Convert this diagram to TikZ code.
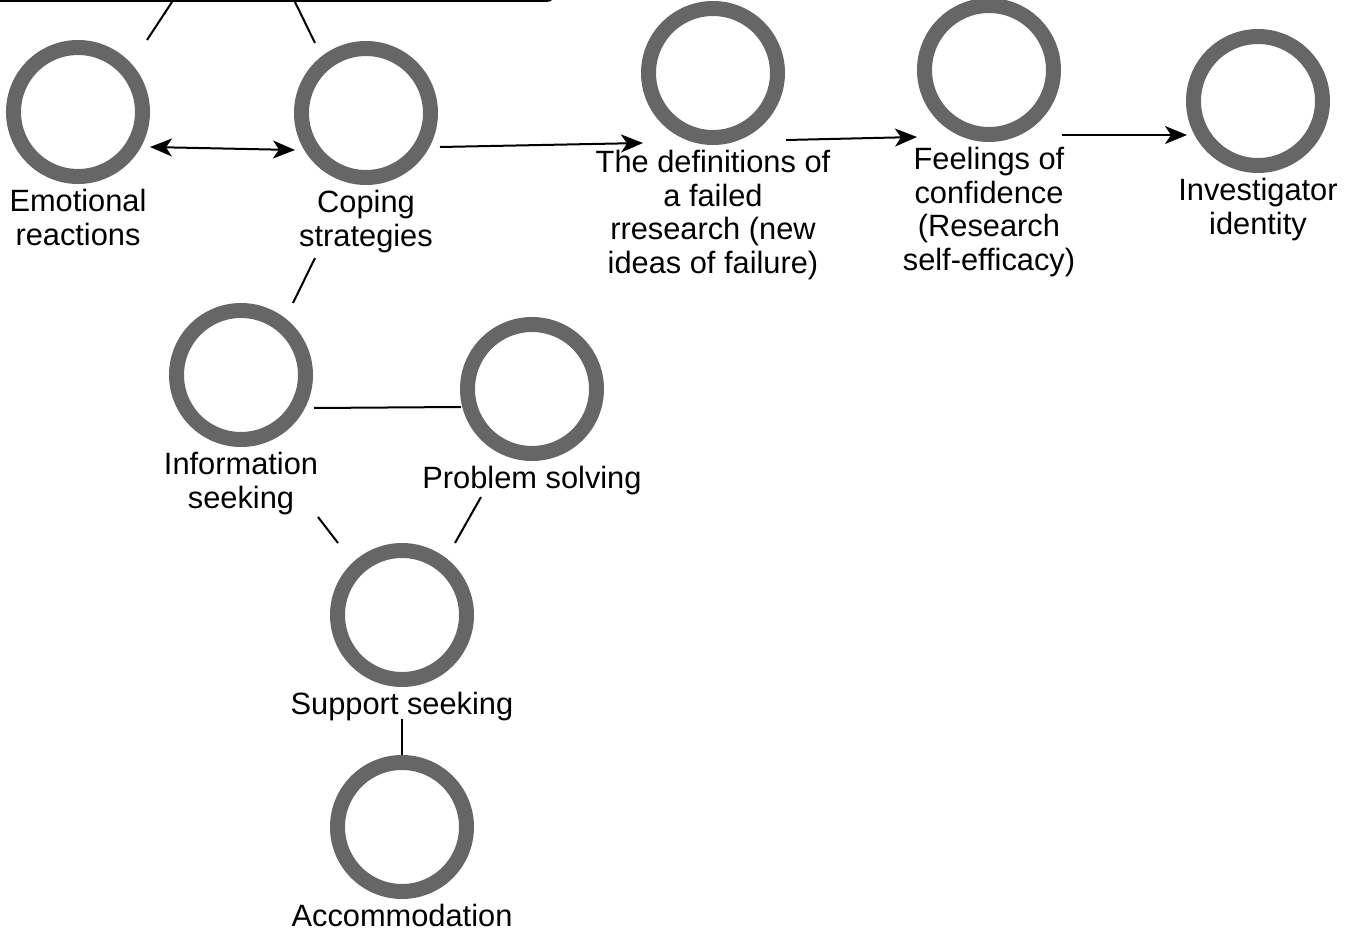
\documentclass[tikz,border=0pt]{standalone}
\usepackage{fontspec}
\setmainfont{Liberation Sans}
\usepackage{tikz}
\usetikzlibrary{arrows.meta,positioning,calc}
\definecolor{ringgray}{HTML}{666666}
\tikzset{
  ring/.style = {circle, draw=ringgray, line width=7.5pt, minimum size=64.5pt,
    inner sep=0pt},% cercle gris
  lbl/.style = {align=center, inner sep=0pt,
    font=\fontsize{15.4pt}{16.8pt}\selectfont},
  link/.style = {line width=1pt},
  frame/.style = {draw, rounded corners=4pt, line width=1.5pt,
    minimum width=286.5pt, minimum height=50pt, inner sep=0pt}
}

\begin{document}
\begin{tikzpicture}[x=0.5pt,y=-0.5pt,
  >={Stealth[length=11pt,width=9pt,inset=3pt]}]
\useasboundingbox (0,0) rectangle (1346,931);
\node [frame, anchor=south west] (frame) at (-20,2) {};
% cercles
\node [ring] (emo) at (78,112) {};
\node [ring] (cop) at (366,113) {};
\node [ring] (def) at (713,73) {};
\node [ring] (fee) at (989,70) {};
\node [ring] (inv) at (1258,101) {};
\node [ring] (inf) at (241,375) {};
\node [ring] (pro) at (532,389) {};
\node [ring] (sup) at (402,615) {};
\node [ring] (acc) at (402,827) {};
% textes
\node [lbl, below=2.5pt of emo] (emo-l) {Emotional\\reactions};
\node [lbl, below=2.5pt of cop] (cop-l) {Coping\\strategies};
\node [lbl, below=2.5pt of def] (def-l) {The definitions of\\a failed\\rresearch (new\\ideas of failure)};
\node [lbl, below=2.5pt of fee] (fee-l) {Feelings of\\confidence\\(Research\\self-efficacy)};
\node [lbl, below=2.5pt of inv] (inv-l) {Investigator\\identity};
\node [lbl, below=2.5pt of inf] (inf-l) {Information\\seeking};
\node [lbl, below=2.5pt of pro] (pro-l) {Problem solving};
\node [lbl, below=2.5pt of sup] (sup-l) {Support seeking};
\node [lbl, below=2.5pt of acc] (acc-l) {Accommodation};
% liens
\draw [link] ($(emo)+(69,-72)$) -- ($(frame.south west)+(192,0)$);
\draw [link] ($(cop)+(-51,-70)$) -- ($(frame.south west)+(315,0)$);
\draw [link,<->] ($(emo)+(72,35)$) -- ($(cop)+(-71,37)$);
\draw [link,->] ($(cop)+(74,34)$) -- ($(def)+(-70,70)$);
\draw [link,->] ($(def)+(73,67)$) -- ($(fee)+(-72,67)$);
\draw [link,->] ($(fee)+(73,65)$) -- ($(inv)+(-71,34)$);
\draw [link] ($(cop)+(-51,145)$) -- ($(inf)+(52,-72)$);
\draw [link] ($(inf)+(73,33)$) -- ($(pro)+(-71,18)$);
\draw [link] ($(inf)+(77,142)$) -- ($(sup)+(-64,-72)$);
\draw [link] ($(pro)+(-51,108)$) -- ($(sup)+(53,-72)$);
\draw [link] ($(sup)+(0,104)$) -- ($(acc)+(0,-72)$);
\end{tikzpicture}
\end{document}
